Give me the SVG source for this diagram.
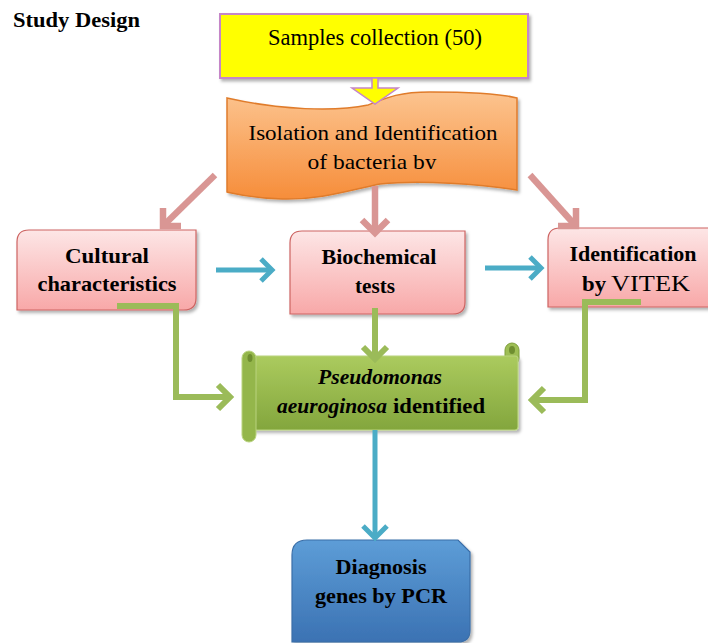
<svg xmlns="http://www.w3.org/2000/svg" width="708" height="643" viewBox="0 0 708 643">
<defs>
<style>
.t{fill:#000}
.b{font-weight:bold}
.c{text-anchor:middle}
.pk{fill:none;stroke:#d99694;stroke-width:6.5}
.bl{fill:none;stroke:#4bacc6;stroke-width:5}
.gr{fill:none;stroke:#9bbb59;stroke-width:6}
</style>
<linearGradient id="gOr" x1="0" y1="0" x2="0" y2="1"><stop offset="0" stop-color="#fcc48f"/><stop offset="1" stop-color="#f68d3a"/></linearGradient>
<linearGradient id="gPk" x1="0" y1="0" x2="0" y2="1"><stop offset="0" stop-color="#fde6e6"/><stop offset="1" stop-color="#f8a8a8"/></linearGradient>
<linearGradient id="gGr" x1="0" y1="0" x2="0" y2="1"><stop offset="0" stop-color="#abcb5e"/><stop offset="1" stop-color="#83a63d"/></linearGradient>
<linearGradient id="gBl" x1="0" y1="0" x2="0" y2="1"><stop offset="0" stop-color="#5d9dd7"/><stop offset="1" stop-color="#3b72b3"/></linearGradient>
<filter id="sh" x="-10%" y="-10%" width="125%" height="130%"><feDropShadow dx="2" dy="2.5" stdDeviation="1.5" flood-color="#000" flood-opacity="0.3"/></filter>
<clipPath id="clipBy"><rect x="300" y="140" width="150" height="29"/></clipPath>
</defs>
<rect width="708" height="643" fill="#fff"/>
<g font-family="Liberation Serif, Times New Roman, serif">
<text class="t b" x="13" y="27" font-size="21" textLength="127" lengthAdjust="spacingAndGlyphs">Study Design</text>

<g id="samples">
<rect x="220" y="14" width="308" height="64" fill="#ffff00" stroke="#c586c8" stroke-width="2" filter="url(#sh)"/>
<text class="t c" x="375" y="45" font-size="23" textLength="214" lengthAdjust="spacingAndGlyphs">Samples collection (50)</text>
</g>

<g id="isolation">
<path d="M227,98 C280,110 335,112 368,105 C388,97 400,92 430,92 C470,92 500,94 517,98 L517,190 C480,184 420,180 380,184 C350,190 320,200 282,199 C252,198 236,194 227,192 Z" fill="url(#gOr)" stroke="#e07c2c" stroke-width="1.5" filter="url(#sh)"/>
<text class="t c" x="373" y="140" font-size="21" textLength="249" lengthAdjust="spacingAndGlyphs">Isolation  and Identification</text>
<text class="t c" x="372" y="169" font-size="21" textLength="129" lengthAdjust="spacingAndGlyphs" clip-path="url(#clipBy)">of bacteria  by</text>
</g>

<g id="cultural">
<path d="M29,230 L196,230 L196,298 Q196,310 184,310 L17,310 L17,242 Q17,230 29,230 Z" fill="url(#gPk)" stroke="#cd6462" stroke-width="1.2" filter="url(#sh)"/>
<text class="t b c" x="107" y="263" font-size="22" textLength="84" lengthAdjust="spacingAndGlyphs">Cultural</text>
<text class="t b c" x="107" y="291" font-size="22" textLength="139" lengthAdjust="spacingAndGlyphs">characteristics</text>
</g>

<g id="biochemical">
<path d="M302,231 L465,231 L465,302 Q465,314 453,314 L290,314 L290,243 Q290,231 302,231 Z" fill="url(#gPk)" stroke="#cd6462" stroke-width="1.2" filter="url(#sh)"/>
<text class="t b c" x="379" y="264" font-size="22" textLength="115" lengthAdjust="spacingAndGlyphs">Biochemical</text>
<text class="t b c" x="375" y="293" font-size="22" textLength="40" lengthAdjust="spacingAndGlyphs">tests</text>
</g>

<g id="vitek">
<path d="M560,228 L716,228 L716,307 L548,307 L548,240 Q548,228 560,228 Z" fill="url(#gPk)" stroke="#cd6462" stroke-width="1.2" filter="url(#sh)"/>
<text class="t b c" x="633" y="261" font-size="22" textLength="127" lengthAdjust="spacingAndGlyphs">Identification</text>
<text class="t b" x="582" y="291" font-size="21" textLength="24" lengthAdjust="spacingAndGlyphs">by</text>
<text class="t" x="611" y="291" font-size="23" textLength="79" lengthAdjust="spacingAndGlyphs">VITEK</text>
</g>

<g id="pseudomonas">
<rect x="505" y="343" width="14" height="22" rx="7" fill="#9ebe55" stroke="#7f9f3c" stroke-width="1"/>
<ellipse cx="512" cy="350" rx="3" ry="4" fill="#6f8e30"/>
<rect x="251" y="356" width="267" height="74" rx="3" fill="url(#gGr)" stroke="#b9d37f" stroke-width="1.2" filter="url(#sh)"/>
<rect x="242" y="351" width="14" height="91" rx="7" fill="#94b64b" stroke="#b9d37f" stroke-width="1"/>
<ellipse cx="250" cy="358" rx="2.5" ry="4" fill="#6f8e30"/>
<text class="t b c" x="380" y="384" font-size="22" font-style="italic" textLength="124" lengthAdjust="spacingAndGlyphs">Pseudomonas</text>
<text class="t b" x="277" y="413" font-size="22" font-style="italic" textLength="110" lengthAdjust="spacingAndGlyphs">aeuroginosa</text>
<text class="t b" x="393" y="413" font-size="22" textLength="92" lengthAdjust="spacingAndGlyphs">identified</text>
</g>

<g id="pcr">
<path d="M307,540 L458,540 L470,552 L470,630 Q470,642 458,642 L292,642 L292,555 Q292,540 307,540 Z" fill="url(#gBl)" stroke="#3a6ea8" stroke-width="1.2" filter="url(#sh)"/>
<text class="t b c" x="381" y="574" font-size="22" textLength="91" lengthAdjust="spacingAndGlyphs">Diagnosis</text>
<text class="t b c" x="381" y="603" font-size="22" textLength="132" lengthAdjust="spacingAndGlyphs">genes by PCR</text>
</g>
</g>

<g id="connectors">
<path d="M372,78 L378,78 L378,88 L398,88 L375,104 L352,88 L372,88 Z" fill="#ffff00" stroke="#c586c8" stroke-width="1.5"/>
<path class="pk" d="M215,175 L165,224"/>
<path class="pk" d="M181,226 L163,226 L163,208"/>
<path class="pk" d="M375,186 L375,230"/>
<path class="pk" d="M362,220 L375,233 L388,220"/>
<path class="pk" d="M530,175 L574,224"/>
<path class="pk" d="M558,226 L576,226 L576,208"/>
<path class="bl" d="M216,270 L271,270"/>
<path class="bl" d="M261,259 L272,270 L261,281"/>
<path class="bl" d="M485,268 L540,268"/>
<path class="bl" d="M530,257 L541,268 L530,279"/>
<path class="gr" d="M117,306 L176,306 L176,397 L229,397"/>
<path class="gr" d="M218,385 L230,397 L218,409"/>
<path class="gr" d="M375,308 L375,357"/>
<path class="gr" d="M363,347 L375,359 L387,347"/>
<path class="gr" d="M641,302 L585,302 L585,400 L533,400"/>
<path class="gr" d="M544,388 L532,400 L544,412"/>
<path class="bl" stroke-width="6" d="M375,430 L375,536"/>
<path class="bl" stroke-width="6" d="M363,526 L375,538 L387,526"/>
</g>
</svg>
